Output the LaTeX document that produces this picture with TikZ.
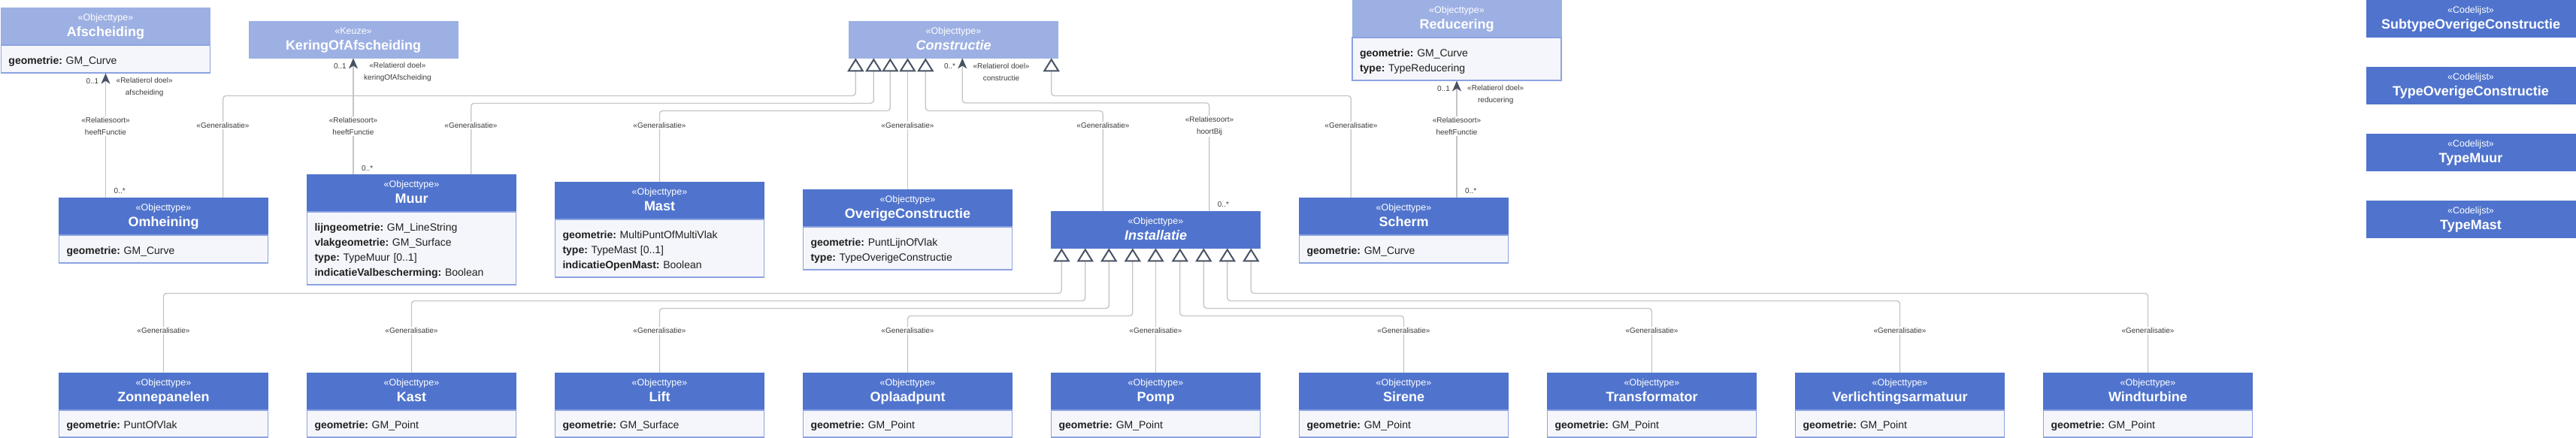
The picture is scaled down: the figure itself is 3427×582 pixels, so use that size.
\documentclass[tikz,border=0pt]{standalone}
\usepackage{fontspec}
\setmainfont{Liberation Sans}
\usetikzlibrary{arrows.meta,calc}

\definecolor{hdrlight}{RGB}{157,176,227}
\definecolor{hdrdark}{RGB}{80,116,205}
\definecolor{attfill}{RGB}{245,246,251}
\definecolor{attline}{RGB}{140,163,226}
\definecolor{conline}{RGB}{196,196,196}
\definecolor{tipcol}{RGB}{72,82,99}
\definecolor{lblcol}{RGB}{60,60,60}

\newcommand\stereo[1]{\rule{0pt}{10.5pt}«#1»}
\newcommand\cname[1]{{\fontsize{18}{21}\selectfont\bfseries\vphantom{Ajg}#1}}

\begin{document}
\frenchspacing
\begin{tikzpicture}[x=1pt, y=-1pt,
  hdr/.style={rectangle, fill=hdrdark, draw=hdrdark, text=white, minimum width=278pt, minimum height=49pt, align=center, inner sep=0pt, anchor=north, font=\fontsize{12.5}{21}\selectfont},
  hdrl/.style={hdr, fill=hdrlight, draw=hdrlight},
  att/.style={rectangle, fill=attfill, draw=attline, line width=1.2pt, minimum width=278pt, text width=258pt, align=left, anchor=north, inner xsep=10pt, inner ysep=0pt, font=\fontsize{14}{20}\selectfont, text=black!88, execute at begin node=\rule{0pt}{16pt}},
  lbl/.style={font=\fontsize{10}{16}\selectfont, text=lblcol, align=center, inner sep=1pt},
  genlbl/.style={lbl, fill=white},
  conn/.style={draw=conline, line width=1.3pt, rounded corners=4pt},
  gen/.style={conn, -{Triangle[open, length=18pt, width=22pt, color=tipcol, line width=2pt]}},
  assoc/.style={conn, -{Stealth[length=14pt, width=12pt, inset=4pt, color=tipcol]}}
]
\useasboundingbox (0,0) rectangle (3427,582);

% bovenste rij
\node[hdrl] (afs) at (140.5,10) {\stereo{Objecttype}\\\cname{Afscheiding}};
\node[att, minimum height=37pt] (afsA) at (afs.south) {\textbf{geometrie:} GM\_Curve};
\node[hdrl] (kof) at (470,28) {\stereo{Keuze}\\\cname{KeringOfAfscheiding}};
\node[hdrl] (con) at (1268.5,28) {\stereo{Objecttype}\\\cname{\itshape Constructie}};
\node[hdrl] (red) at (1938,0) {\stereo{Objecttype}\\\cname{Reducering}};
\node[att, minimum height=57pt] (redA) at (red.south) {\textbf{geometrie:} GM\_Curve\\\textbf{type:} TypeReducering};

% codelijsten
\foreach \n/\t [count=\i from 0] in {sub/SubtypeOverigeConstructie, toc/TypeOverigeConstructie, tmu/TypeMuur, tma/TypeMast}
  \node[hdr] (\n) at (3287,89*\i) {\stereo{Codelijst}\\\cname{\t}};

% middelste rij
\node[hdr] (omh) at (217.5,263) {\stereo{Objecttype}\\\cname{Omheining}};
\node[att, minimum height=37pt] (omhA) at (omh.south) {\textbf{geometrie:} GM\_Curve};
\node[hdr] (muur) at (547.5,232) {\stereo{Objecttype}\\\cname{Muur}};
\node[att, minimum height=97pt] (muurA) at (muur.south) {\textbf{lijngeometrie:} GM\_LineString\\\textbf{vlakgeometrie:} GM\_Surface\\\textbf{type:} TypeMuur [0..1]\\\textbf{indicatieValbescherming:} Boolean};
\node[hdr] (mast) at (877.5,242) {\stereo{Objecttype}\\\cname{Mast}};
\node[att, minimum height=77pt] (mastA) at (mast.south) {\textbf{geometrie:} MultiPuntOfMultiVlak\\\textbf{type:} TypeMast [0..1]\\\textbf{indicatieOpenMast:} Boolean};
\node[hdr] (ovc) at (1207.5,252) {\stereo{Objecttype}\\\cname{OverigeConstructie}};
\node[att, minimum height=57pt] (ovcA) at (ovc.south) {\textbf{geometrie:} PuntLijnOfVlak\\\textbf{type:} TypeOverigeConstructie};
\node[hdr] (ins) at (1537.5,281) {\stereo{Objecttype}\\\cname{\itshape Installatie}};
\node[hdr] (sch) at (1867.5,263) {\stereo{Objecttype}\\\cname{Scherm}};
\node[att, minimum height=37pt] (schA) at (sch.south) {\textbf{geometrie:} GM\_Curve};

% onderste rij
\foreach \n/\t/\g [count=\i from 0] in {zon/Zonnepanelen/PuntOfVlak, kast/Kast/GM\_Point, lift/Lift/GM\_Surface, opl/Oplaadpunt/GM\_Point, pomp/Pomp/GM\_Point, sir/Sirene/GM\_Point, trf/Transformator/GM\_Point, vla/Verlichtingsarmatuur/GM\_Point, wnd/Windturbine/GM\_Point}
{
  \node[hdr] (\n) at (217.5+330*\i,496) {\stereo{Objecttype}\\\cname{\t}};
  \node[att, minimum height=36pt] (\n A) at (\n.south) {\textbf{geometrie:} \g};
}

% relaties
\draw[assoc] (afsA.south |- omh.north) -- (afsA.south);
\draw[assoc] (kof.south |- muur.north) -- (kof.south);
\draw[assoc] (redA.south |- sch.north) -- (redA.south);
\draw[assoc] ($(ins.north east)+(-68,0)$) -- ++(0,-144) -| ($(con.south west)+(151,0)$);

% generalisaties naar Constructie
\draw[gen] ($(omh.north east)+(-60,0)$) |- ($(con.south west)+(9,50)$) -- ($(con.south west)+(9,0)$);
\draw[gen] ($(muur.north east)+(-60,0)$) |- ($(con.south west)+(33,60)$) -- ($(con.south west)+(33,0)$);
\draw[gen] (mast.north) |- ($(con.south west)+(55,70)$) -- ($(con.south west)+(55,0)$);
\draw[gen] (ovc.north) -- (ovc.north |- con.south);
\draw[gen] ($(ins.north west)+(69,0)$) |- ($(con.south west)+(102,70)$) -- ($(con.south west)+(102,0)$);
\draw[gen] ($(sch.north west)+(69,0)$) |- ($(con.south east)+(-9,50)$) -- ($(con.south east)+(-9,0)$);

% generalisaties naar Installatie
\foreach \n/\i/\h in {zon/0/60, kast/1/70, lift/2/80, opl/3/90, sir/5/90, trf/6/80, vla/7/70, wnd/8/60}
  \draw[gen] (\n.north) |- ($(ins.south west)+(14+31.5*\i,\h)$) -- ($(ins.south west)+(14+31.5*\i,0)$);
\draw[gen] (pomp.north) -- (pomp.north |- ins.south);

% labels
\foreach \x [count=\k] in {296.5, 626.5, 877.5, 1207.5, 1467.5, 1797.5}
  \node[genlbl] (gt\k) at (\x,167) {«Generalisatie»};
\foreach \k in {0,...,8}
  \node[genlbl] (gb\k) at (217.5+330*\k,440) {«Generalisatie»};

\node[genlbl] (afsS) at (afsA.south |- 0,168) {«Relatiesoort»\\heeftFunctie};
\node[genlbl] (kofS) at (kof.south |- 0,168) {«Relatiesoort»\\heeftFunctie};
\node[genlbl] (redS) at (redA.south |- 0,168) {«Relatiesoort»\\heeftFunctie};
\node[genlbl] (insS) at (1609,168) {«Relatiesoort»\\hoortBij};

\node[lbl, anchor=east] (afsM) at ($(afsA.south)+(-8,10)$) {0..1};
\node[lbl, anchor=west] (afsR) at ($(afsA.south)+(13,18)$) {«Relatierol doel»\\afscheiding};
\node[lbl, anchor=east] (kofM) at ($(kof.south)+(-8,11)$) {0..1};
\node[lbl, anchor=west] (kofR) at ($(kof.south)+(13,19)$) {«Relatierol doel»\\keringOfAfscheiding};
\node[lbl, anchor=east] (redM) at ($(redA.south)+(-8,10)$) {0..1};
\node[lbl, anchor=west] (redR) at ($(redA.south)+(13,18)$) {«Relatierol doel»\\reducering};
\node[lbl, anchor=east] (conM) at ($(con.south west)+(143,11)$) {0..*};
\node[lbl, anchor=west] (conR) at ($(con.south west)+(164,19)$) {«Relatierol doel»\\constructie};

\node[lbl, anchor=west] (omhM) at ($(afsA.south |- omh.north)+(10,-9)$) {0..*};
\node[lbl, anchor=west] (muurM) at ($(kof.south |- muur.north)+(10,-8)$) {0..*};
\node[lbl, anchor=west] (schM) at ($(redA.south |- sch.north)+(10,-9)$) {0..*};
\node[lbl, anchor=west] (insM) at ($(ins.north east)+(-58,-9)$) {0..*};
\end{tikzpicture}
\end{document}
